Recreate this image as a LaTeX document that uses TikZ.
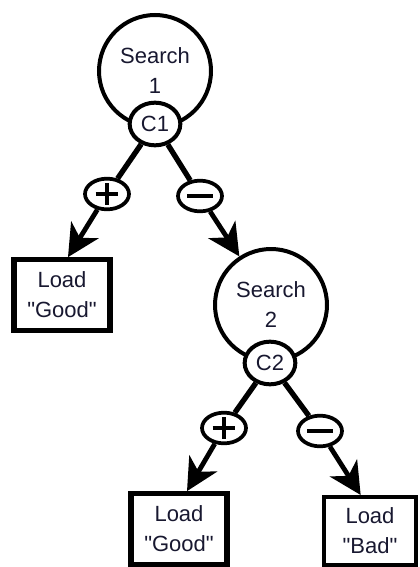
\documentclass[tikz,border=0pt]{standalone}
\usepackage{fontspec}
\setmainfont{Liberation Sans}
\usetikzlibrary{shapes.geometric,arrows.meta}
\definecolor{ink}{RGB}{24,24,48}

\tikzset{
  x=0.75pt, y=-0.75pt,
  every node/.style={font=\fontsize{16.5pt}{22.5pt}\selectfont, text=ink},
  searchnode/.style={circle, draw=black, line width=3pt, fill=white, minimum size=84pt, inner sep=0pt, align=center},
  condnode/.style={ellipse, draw=black, line width=3pt, fill=white, minimum width=38pt, minimum height=32pt, inner sep=0pt},
  signnode/.style={ellipse, draw=black, line width=2.8pt, fill=white, minimum width=33pt, minimum height=23pt, inner sep=0pt},
  plusnode/.style={signnode, path picture={
    \draw[line width=3.2pt] ([xshift=-8.5pt]path picture bounding box.center) -- ([xshift=8.5pt]path picture bounding box.center)
      ([yshift=-8pt]path picture bounding box.center) -- ([yshift=8pt]path picture bounding box.center);}},
  minusnode/.style={signnode, path picture={
    \draw[line width=3.2pt] ([xshift=-9.5pt]path picture bounding box.center) -- ([xshift=9.5pt]path picture bounding box.center);}},
  loadbox/.style={rectangle, draw=black, line width=3.8pt, fill=white, minimum width=72pt, minimum height=53pt, align=center, inner sep=0pt},
  branch/.style={line width=4pt},
  outcome/.style={line width=3.6pt, -{Stealth[length=24pt,width=24pt,inset=7pt]}}
}

\begin{document}
\begin{tikzpicture}
  \useasboundingbox (0,0) rectangle (419,567);

  \node[searchnode] (search1) at (155,71) {Search\\1};
  \node[condnode] (c1) at (155,124) {C1};
  \node[plusnode] (plus1) at (107,194) {};
  \node[minusnode] (minus1) at (200,196) {};
  \node[loadbox] (good1) at (62,295) {Load\\\textquotedbl Good\textquotedbl};

  \node[searchnode] (search2) at (271,305) {Search\\2};
  \node[condnode] (c2) at (270,363) {C2};
  \node[plusnode] (plus2) at (224,428) {};
  \node[minusnode] (minus2) at (320,431) {};
  \node[loadbox] (good2) at (179,529) {Load\\\textquotedbl Good\textquotedbl};
  \node[loadbox, line width=3pt, minimum width=69pt, minimum height=51pt] (bad) at (370,531) {Load\\\textquotedbl Bad\textquotedbl};

  \draw[branch] (c1) -- (plus1);
  \draw[branch] (c1) -- (minus1);
  \draw[outcome] (plus1) -- ([xshift=4.5pt]good1.north);
  \draw[outcome] (minus1) -- (search2);

  \draw[branch] (c2) -- (plus2);
  \draw[branch] (c2) -- (minus2);
  \draw[outcome] (plus2) -- ([xshift=6pt]good2.north);
  \draw[outcome] (minus2) -- ([xshift=-7pt]bad.north);
\end{tikzpicture}
\end{document}
